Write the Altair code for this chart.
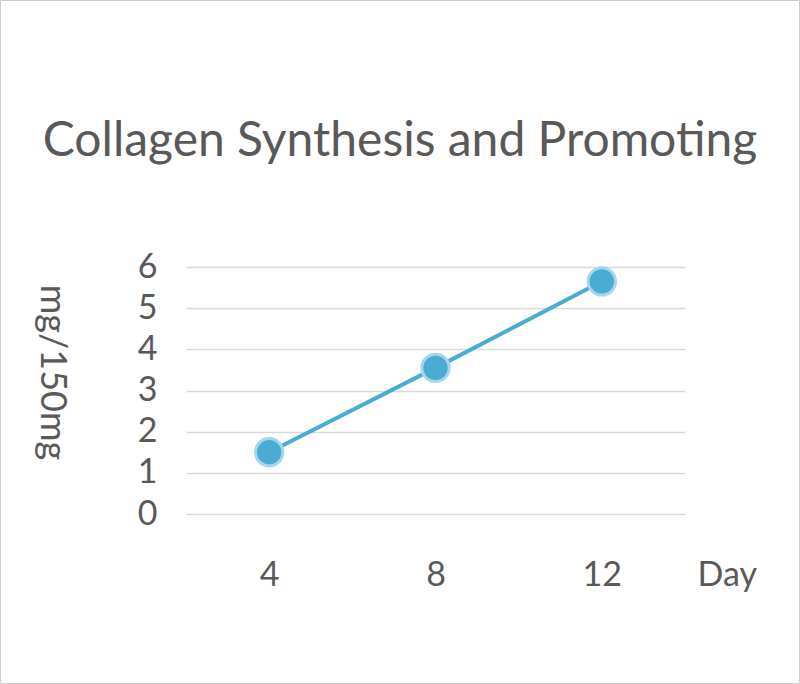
import altair as alt
import pandas as pd

TITLE = "Collagen Synthesis and Promoting"
days = ["4", "8", "12"]
values = [1.5, 3.55, 5.65]
y_ticks = [0, 1, 2, 3, 4, 5, 6]
x_title = "Day"
y_title = "mg/150mg"

df = pd.DataFrame({"day": days, "value": values})

FONT = "Lato"
TEXT = "#595959"
BLUE = "#4aabd3"
HALO = "#a6d6ec"
LABEL_SIZE = 34

x = alt.X(
    "day:O",
    sort=days,
    scale=alt.Scale(padding=0.5),
    axis=alt.Axis(
        title=x_title,
        labelAngle=0,
        domain=False,
        ticks=False,
        tickSize=0,
        grid=False,
        labelPadding=71,
        labelBaseline="alphabetic",
        labelFontSize=LABEL_SIZE,
        labelFont=FONT,
        labelColor=TEXT,
        titleX=511,
        titleY=71,
        titleAlign="left",
        titleBaseline="alphabetic",
        titleFontSize=LABEL_SIZE,
        titleFont=FONT,
        titleFontWeight="normal",
        titleColor=TEXT,
    ),
)
y = alt.Y(
    "value:Q",
    scale=alt.Scale(domain=[0, 6], nice=False),
    axis=alt.Axis(
        values=y_ticks,
        title=y_title,
        titleAngle=90,
        titleX=-135,
        titleY=105,
        titleAlign="center",
        titleBaseline="middle",
        titleFontSize=36,
        titleFont=FONT,
        titleFontWeight="normal",
        titleColor=TEXT,
        domain=False,
        ticks=False,
        tickSize=0,
        labelPadding=29,
        labelFontSize=LABEL_SIZE,
        labelFont=FONT,
        labelColor=TEXT,
        grid=True,
        gridColor="#d9d9d9",
        gridWidth=1.5,
    ),
)

base = alt.Chart(df)
line = base.mark_line(color=BLUE, strokeWidth=4).encode(x=x, y=y)
pts = base.mark_circle(size=750, fill=BLUE, opacity=1, stroke=HALO, strokeWidth=3).encode(x=x, y=y)

title = alt.Chart(pd.DataFrame({"t": [TITLE]})).mark_text(
    font=FONT, fontSize=48, color=TEXT, align="center", baseline="alphabetic"
).encode(text="t:N", x=alt.value(214), y=alt.value(-111))

border = alt.Chart(pd.DataFrame({"b": [0]})).mark_rect(
    fillOpacity=0, stroke="#cccccc", strokeWidth=1
).encode(x=alt.value(-185.5), x2=alt.value(613.5), y=alt.value(-266.5), y2=alt.value(416.5))

chart = alt.layer(border, line, pts, title).properties(
    width=499,
    height=247,
    autosize=alt.AutoSizeParams(type="none"),
    padding={"left": 186, "top": 267, "right": 115, "bottom": 170},
    background="white",
).configure_view(strokeWidth=0)

chart.save("out.html", embed_options={"renderer": "svg", "actions": False})
